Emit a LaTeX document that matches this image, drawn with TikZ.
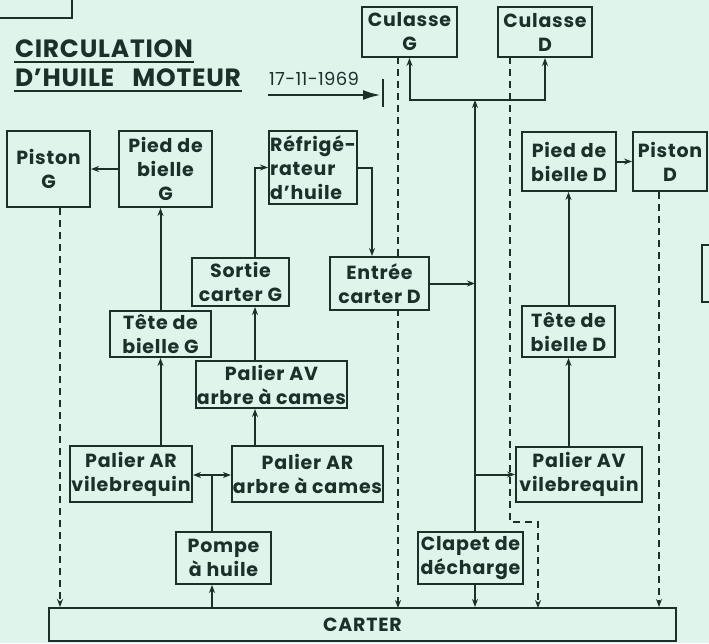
\documentclass[tikz,border=0pt]{standalone}
\usepackage{fontspec}
\setmainfont{Poppins}
\usetikzlibrary{arrows.meta}
\definecolor{mint}{RGB}{223,245,236}
\definecolor{ink}{RGB}{28,48,42}

\begin{document}
\begin{tikzpicture}[x=1pt, y=-1pt, line width=2pt, draw=ink, text=ink,
  box/.style={draw, fill=mint, inner sep=1pt, align=center,
    font=\fontsize{19}{24}\selectfont\bfseries\addfontfeatures{LetterSpace=4}},
  flow/.style={-{Stealth[length=8pt,width=6pt]}},
  drain/.style={dashed, dash pattern=on 7pt off 5pt, -{Stealth[length=8pt,width=6pt]}}]
  \fill[mint] (0,0) rectangle (709,643);
  \useasboundingbox (0,0) rectangle (709,643);
  \draw (0,18) -- (72,18) -- (72,0);
  \draw (709,245) -- (702,245) -- (702,302) -- (709,302);
  \node[anchor=south west, inner sep=0pt, font=\fontsize{25}{26}\selectfont\bfseries\addfontfeatures{LetterSpace=3}] (title1) at (14,59) {CIRCULATION};
  \node[anchor=south west, inner sep=0pt, font=\fontsize{25}{26}\selectfont\bfseries\addfontfeatures{LetterSpace=3}] (title2) at (14,88) {D'HUILE\ \ \ MOTEUR};
  \draw (14,62) -- (title1.south east |- 0,62);
  \draw (14,91) -- (title2.south east |- 0,91);
  \node[anchor=south west, inner sep=0pt, font=\fontsize{18}{20}\selectfont\addfontfeatures{LetterSpace=2}] (date) at (268,87) {17-11-1969};
  \coordinate (datestart) at (268,95);
  \coordinate (stop) at (381,95);
  \draw[line width=2.6pt, -{Latex[length=18pt,width=10pt]}] (datestart) -- (stop);
  \draw[line width=2.6pt] (383,79) -- (383,107);
  \coordinate (dG) at (60,0);
  \coordinate (dCG) at (398,0);
  \coordinate (dCD) at (510,0);
  \coordinate (dPD) at (659,0);
  \coordinate (cam) at (255,0);
  \coordinate (cool) at (372,0);
  \coordinate (split) at (212,475);
  \coordinate (tee) at (475,100);
  \draw[drain] (dCG |- 0,57) -- (dCG |- 0,608);
  \draw[drain] (dCD |- 0,57) -- (510,522) -- (538,522) -- (538,608);
  \node[box, minimum width=83pt, minimum height=76pt] (pistonG) at (48.5,169) {Piston\\G};
  \node[box, minimum width=93pt, minimum height=76pt] (piedG) at (165.5,169) {Pied de\\bielle\\G};
  \node[box, minimum width=88pt, minimum height=73pt, align=left] (refrig) at (313,167.5) {Réfrigé-\\rateur\\d'huile};
  \node[box, minimum width=95pt, minimum height=50pt] (culG) at (409.5,32) {Culasse\\G};
  \node[box, minimum width=94pt, minimum height=50pt] (culD) at (545,32) {Culasse\\D};
  \node[box, minimum width=94pt, minimum height=59pt] (piedD) at (569,161.5) {Pied de\\bielle D};
  \node[box, minimum width=74pt, minimum height=59pt] (pistonD) at (670,161.5) {Piston\\D};
  \node[box, minimum width=97pt, minimum height=48pt] (sortieG) at (240.5,282) {Sortie\\carter G};
  \node[box, minimum width=99pt, minimum height=53pt] (entreeD) at (379.5,283.5) {Entrée\\carter D};
  \node[box, minimum width=101pt, minimum height=46pt] (teteG) at (160.5,334) {Tête de\\bielle G};
  \node[box, minimum width=93pt, minimum height=51pt] (teteD) at (568.5,331.5) {Tête de\\bielle D};
  \node[box, minimum width=149pt, minimum height=47pt] (palAVcam) at (271.5,384.5) {Palier AV\\arbre à cames};
  \node[box, minimum width=122pt, minimum height=56pt] (palARvil) at (131,474) {Palier AR\\vilebrequin};
  \node[box, minimum width=151pt, minimum height=56pt] (palARcam) at (307.5,474) {Palier AR\\arbre à cames};
  \node[box, minimum width=126pt, minimum height=55pt] (palAVvil) at (579,474.5) {Palier AV\\vilebrequin};
  \node[box, minimum width=95pt, minimum height=52pt] (pompe) at (223.5,558) {Pompe\\à huile};
  \node[box, minimum width=105pt, minimum height=52pt] (clapet) at (470.5,558) {Clapet de\\décharge};
  \node[box, minimum width=627pt, minimum height=33pt] (carter) at (362.5,624.5) {CARTER};
  \draw[drain] (pistonG.south -| dG) -- (dG |- carter.north);
  \draw[drain] (pistonD.south -| dPD) -- (dPD |- carter.north);
  \draw[flow] (piedG.west) -- (pistonG.east);
  \draw[flow] (teteG.north) -- (teteG.north |- piedG.south);
  \draw[flow] (teteG.south |- palARvil.north) -- (teteG.south);
  \draw (split |- pompe.north) -- (split);
  \draw[flow] (split) -- (palARvil.east |- split);
  \draw[flow] (split) -- (palARcam.west |- split);
  \draw[flow] (split |- carter.north) -- (split |- pompe.south);
  \draw[flow] (cam |- palARcam.north) -- (cam |- palAVcam.south);
  \draw[flow] (cam |- palAVcam.north) -- (cam |- sortieG.south);
  \draw[flow] (cam |- sortieG.north) |- (refrig.west);
  \draw[flow] (refrig.east) -| (cool |- entreeD.north);
  \draw[flow] (tee |- clapet.north) -- (tee);
  \draw[flow] (tee) -| (culG.south);
  \draw[flow] (tee) -| (culD.south);
  \draw[flow] (entreeD.east) -- (entreeD.east -| tee);
  \draw[flow] (tee |- palAVvil.west) -- (palAVvil.west);
  \draw[flow] (tee |- clapet.south) -- (tee |- carter.north);
  \draw[flow] (teteD.south |- palAVvil.north) -- (teteD.south);
  \draw[flow] (teteD.north) -- (teteD.north |- piedD.south);
  \draw[flow] (piedD.east) -- (pistonD.west);
\end{tikzpicture}
\end{document}
